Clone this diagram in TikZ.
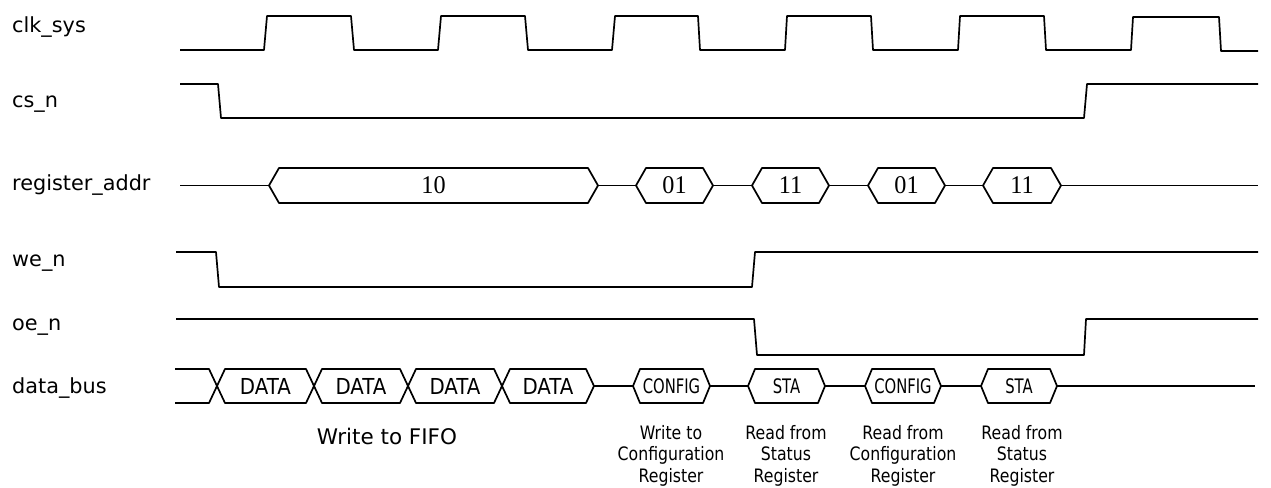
\documentclass[tikz,border=0pt]{standalone}
\usepackage{fontspec}
\setmainfont{DejaVu Sans}
\newfontfamily\datafont{DejaVu Sans}[FakeStretch=0.9]
\newfontfamily\cfgfont{DejaVu Sans}[FakeStretch=0.74]
\newfontfamily\notefont{DejaVu Sans}[FakeStretch=0.85]
\newfontfamily\numfont{Liberation Serif}[FakeStretch=0.95]
\begin{document}
\begin{tikzpicture}[x=1pt,y=-1pt,
  sig/.style={line width=1.7pt,line join=round},
  hexsig/.style={line width=1.7pt,line join=round,fill=white},
  siglabel/.style={anchor=base west,inner sep=0pt,font=\fontsize{20.8}{24}\selectfont},
  numtxt/.style={inner sep=0pt,font=\numfont\fontsize{25.5}{28}\selectfont},
  datatxt/.style={inner sep=0pt,font=\datafont\fontsize{22}{26}\selectfont},
  cfgtxt/.style={inner sep=0pt,font=\cfgfont\fontsize{20}{24}\selectfont},
  notetxt/.style={anchor=north,inner sep=0pt,align=center,font=\notefont\fontsize{18.5}{21.5}\selectfont}]
\fill[white] (0,0) rectangle (1271,487);
\useasboundingbox (0,0) rectangle (1271,487);

% signal names
\node[siglabel] (lclk) at (12,33) {clk\_sys};
\node[siglabel] (lcs) at (12,107) {cs\_n};
\node[siglabel] (lreg) at (12,190) {register\_addr};
\node[siglabel] (lwe) at (12,266) {we\_n};
\node[siglabel] (loe) at (12,330) {oe\_n};
\node[siglabel] (ldata) at (12,393) {data\_bus};

% clk_sys
\draw[sig] (180,50) -- (264,50) -- (267,16) -- (351,16) -- (354,50)
  -- (438,50) -- (441,16) -- (525,16) -- (528,50)
  -- (612,50) -- (615,16) -- (698,16) -- (700,50)
  -- (785,50) -- (787,16) -- (871,16) -- (873,50)
  -- (958,50) -- (960,16) -- (1044,16) -- (1046,50)
  -- (1131,50) -- (1133,17) -- (1219,17) -- (1221,51) -- (1258,51);

% cs_n
\draw[sig] (180,84) -- (218,84) -- (221,118) -- (1084,118) -- (1087,84) -- (1258,84);

% register_addr
\draw[sig] (180,185.5) -- (1258,185.5);
\foreach \a/\b/\t/\n in {269/598/10/ra1, 636/713/01/ra2, 752/829/11/ra3, 868/945/01/ra4, 983/1061/11/ra5} {
  \draw[hexsig] (\a,185.5) -- (\a+10,168) -- (\b-10,168) -- (\b,185.5) -- (\b-10,203) -- (\a+10,203) -- cycle;
  \node[numtxt] (\n) at ({(\a+\b)/2},185.5) {\t};
}

% we_n
\draw[sig] (176,252) -- (216,252) -- (219,287) -- (752,287) -- (755,252) -- (1258,252);

% oe_n
\draw[sig] (176,319) -- (754,319) -- (757,355) -- (1084,355) -- (1086,319) -- (1258,319);

% data_bus
\draw[sig] (175,369) -- (209,369) -- (217,386) -- (209,403) -- (175,403);
\draw[sig] (594,386) -- (1255,386);
\foreach \a/\b/\n in {217/314/d1, 314/408/d2, 408/502/d3, 502/594/d4} {
  \draw[hexsig] (\a,386) -- (\a+8,369) -- (\b-8,369) -- (\b,386) -- (\b-8,403) -- (\a+8,403) -- cycle;
  \node[datatxt] (\n) at ({(\a+\b)/2},386) {DATA};
}
\foreach \a/\b/\t/\n in {633/710/CONFIG/c1, 748/825/STA/s1, 865/941/CONFIG/c2, 981/1057/STA/s2} {
  \draw[hexsig] (\a,386) -- (\a+7,369) -- (\b-7,369) -- (\b,386) -- (\b-7,403) -- (\a+7,403) -- cycle;
  \node[cfgtxt] (\n) at ({(\a+\b)/2},386) {\t};
}

% notes
\node[anchor=base,inner sep=0pt,font=\fontsize{21.5}{24}\selectfont] (nfifo) at (387,444) {Write to FIFO};
\node[notetxt] (n1) at (671,425) {Write to\\Configuration\\Register};
\node[notetxt] (n2) at (786,425) {Read from\\Status\\Register};
\node[notetxt] (n3) at (903,425) {Read from\\Configuration\\Register};
\node[notetxt] (n4) at (1022,425) {Read from\\Status\\Register};
\end{tikzpicture}
\end{document}
